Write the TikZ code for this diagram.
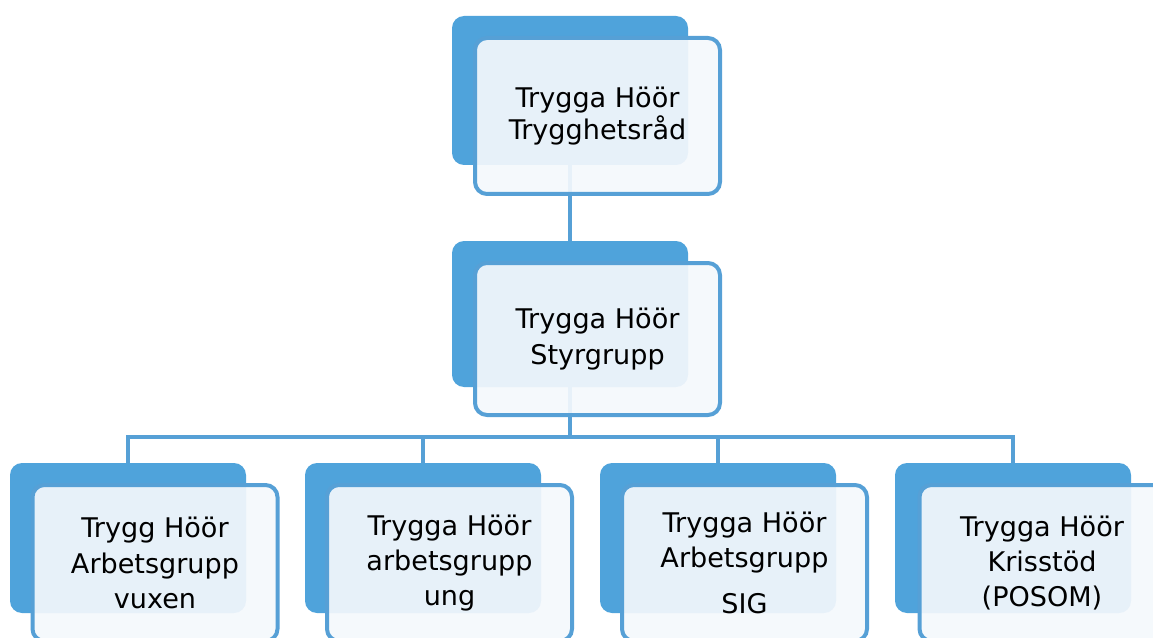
\documentclass[tikz,border=0pt]{standalone}
\usepackage{fontspec}
\setmainfont{DejaVu Sans}
\definecolor{backblue}{RGB}{79,163,219}
\definecolor{lineblue}{RGB}{86,160,214}
\definecolor{frontfill}{RGB}{244,248,252}
\begin{document}
\begin{tikzpicture}[x=0.75pt,y=-0.75pt,
  backbox/.style={draw=none,fill=backblue,rounded corners=9pt,inner sep=0pt,
    minimum width=177pt},
  frontbox/.style={draw=lineblue,line width=3pt,fill=frontfill,fill opacity=0.92,
    text opacity=1,rounded corners=9pt,inner sep=0pt,minimum width=183.75pt,align=center,
    font=\fontsize{20.3}{26.5}\selectfont},
  conn/.style={draw=lineblue,line width=3.2pt}]
\useasboundingbox (0,0) rectangle (1153,638);
% back boxes
\node[backbox,minimum height=111.75pt] (b1) at (570,90.5) {};
\node[backbox,minimum height=109.5pt] (b2) at (570,314) {};
\node[backbox,minimum height=112.5pt] (c1) at (128,538) {};
\node[backbox,minimum height=112.5pt] (c2) at (423,538) {};
\node[backbox,minimum height=112.5pt] (c3) at (718,538) {};
\node[backbox,minimum height=112.5pt] (c4) at (1013,538) {};
% connectors
\coordinate (bus) at (570,437);
\draw[conn] (b1.south) -- (b2.north);
\draw[conn] (b2.south) -- (bus);
\draw[conn,line join=miter] (c1.north) |- (bus);
\draw[conn] (c2.north) -- (c2.north |- bus);
\draw[conn] (c3.north) -- (c3.north |- bus);
\draw[conn,line join=miter] (c4.north) |- (bus);
% front boxes
\node[frontbox,minimum height=117pt,font=\fontsize{20.3}{24}\selectfont] (f1) at (597.5,116) {Trygga Höör\\Trygghetsråd};
\node[frontbox,minimum height=114pt] (f2) at (597.5,339) {Trygga Höör\\Styrgrupp};
\node[frontbox,minimum height=117pt] (g1) at (155,563) {Trygg Höör\\Arbetsgrupp\\vuxen};
\node[frontbox,minimum height=117pt] (g2) at (449.5,563) {Trygga Höör\\arbetsgrupp\\ung};
\node[frontbox,minimum height=117pt] (g3) at (744.5,563) {Trygga Höör\\Arbetsgrupp\\[8pt]SIG};
\node[frontbox,minimum height=117pt] (g4) at (1042,563) {Trygga Höör\\Krisstöd\\(POSOM)};
\end{tikzpicture}
\end{document}
